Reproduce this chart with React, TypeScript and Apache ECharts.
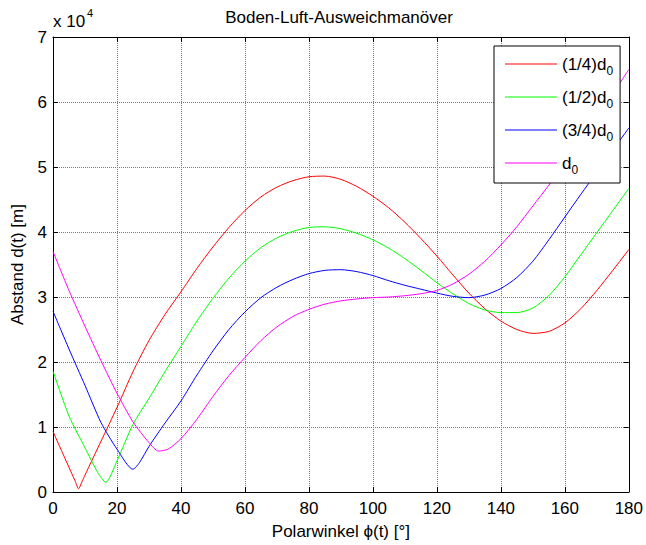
import React, { useEffect, useRef } from "react";
import * as echarts from "echarts";

const FONT = "'Liberation Sans', Arial, Helvetica, sans-serif";

const titleText = "Boden-Luft-Ausweichmanöver";
const xAxisName = "Polarwinkel \u03d5(t) [°]";
const yAxisName = "Abstand d(t) [m]";
const yScaleExponent = "4";

const seriesNames = ["(1/4)d0", "(1/2)d0", "(3/4)d0", "d0"];
const seriesColors = ["#ff0000", "#00ff00", "#0000ff", "#ff00ff"];

// values in units of 10^4 m
const redAngles = [0, 4, 7, 8, 9, 10, 15, 20, 25, 30, 35, 40, 45, 50, 55, 60, 65, 70, 75, 80, 85, 90, 95, 100, 105, 110, 115, 120, 125, 130, 135, 140, 145, 150, 155, 160, 165, 170, 175, 180];
const redValues = [0.93, 0.49, 0.16, 0.05, 0.15, 0.26, 0.78, 1.3, 1.85, 2.33, 2.73, 3.08, 3.44, 3.77, 4.07, 4.33, 4.54, 4.69, 4.79, 4.85, 4.86, 4.81, 4.7, 4.55, 4.37, 4.15, 3.9, 3.63, 3.34, 3.06, 2.82, 2.63, 2.5, 2.44, 2.47, 2.6, 2.82, 3.1, 3.41, 3.73];

const greenAngles = [0, 5, 10, 14, 16.5, 20, 25, 30, 35, 40, 45, 50, 55, 60, 65, 70, 75, 80, 85, 90, 95, 100, 105, 110, 115, 120, 125, 130, 135, 140, 145, 150, 155, 160, 165, 170, 175, 180];
const greenValues = [1.86, 1.17, 0.68, 0.3, 0.15, 0.48, 1.04, 1.44, 1.85, 2.24, 2.63, 2.98, 3.29, 3.55, 3.76, 3.91, 4.01, 4.07, 4.08, 4.05, 3.98, 3.88, 3.75, 3.59, 3.41, 3.22, 3.05, 2.9, 2.8, 2.76, 2.76, 2.83, 3.02, 3.31, 3.65, 3.99, 4.33, 4.67];

const blueAngles = [0, 5, 10, 15, 20, 25, 27, 30, 35, 40, 45, 50, 55, 60, 65, 70, 75, 80, 85, 90, 95, 100, 105, 110, 115, 120, 125, 130, 135, 140, 145, 150, 155, 160, 165, 170, 175, 180];
const blueValues = [2.78, 2.2, 1.64, 1.07, 0.66, 0.35, 0.45, 0.7, 1.06, 1.4, 1.8, 2.17, 2.5, 2.77, 2.99, 3.15, 3.27, 3.36, 3.41, 3.42, 3.39, 3.33, 3.25, 3.18, 3.12, 3.06, 3.01, 2.99, 3.03, 3.13, 3.3, 3.55, 3.88, 4.23, 4.58, 4.92, 5.26, 5.6];

const magentaAngles = [0, 5, 10, 15, 20, 25, 30, 33, 36, 40, 45, 50, 55, 60, 65, 70, 75, 80, 85, 90, 95, 100, 105, 110, 115, 120, 125, 130, 135, 140, 145, 150, 155, 160, 165, 170, 175, 180];
const magentaValues = [3.7, 3.1, 2.55, 2.02, 1.52, 1.08, 0.76, 0.63, 0.66, 0.82, 1.12, 1.47, 1.79, 2.07, 2.33, 2.54, 2.7, 2.81, 2.89, 2.94, 2.97, 2.99, 3.0, 3.02, 3.05, 3.1, 3.2, 3.35, 3.55, 3.8, 4.08, 4.4, 4.72, 5.05, 5.4, 5.77, 6.13, 6.5];

const allAngles = [redAngles, greenAngles, blueAngles, magentaAngles];
const allValues = [redValues, greenValues, blueValues, magentaValues];

const xMin = 0, xMax = 180, xStep = 20;
const yMin = 0, yMax = 7, yStep = 1;

export default function App() {
  const ref = useRef<HTMLDivElement>(null);
  useEffect(() => {
    if (!ref.current) return;
    const chart = echarts.init(ref.current, null, { renderer: "svg" });
    const gridLine = { show: true, lineStyle: { color: "#7a7a7a", width: 1, type: [1, 1] as any } };
    const axisLine = { show: true, onZero: false, lineStyle: { color: "#000", width: 1 } };
    const axisTick = { show: true, inside: true, length: 5, lineStyle: { color: "#000", width: 1 } };
    const labelStyle = { color: "#000", fontSize: 17, fontFamily: FONT };
    const option: any = {
      animation: false,
      backgroundColor: "#ffffff",
      grid: { left: 53, right: 14, top: 37, bottom: 52, containLabel: false },
      xAxis: [
        {
          type: "value", min: xMin, max: xMax, interval: xStep, position: "bottom",
          axisLine, axisTick, splitLine: gridLine,
          axisLabel: { ...labelStyle, margin: 8 },
          name: xAxisName, nameLocation: "middle", nameGap: 31,
          nameTextStyle: { ...labelStyle },
        },
        {
          type: "value", min: xMin, max: xMax, interval: xStep, position: "top",
          axisLine, axisTick, splitLine: { show: false }, axisLabel: { show: false },
        },
      ],
      yAxis: [
        {
          type: "value", min: yMin, max: yMax, interval: yStep, position: "left",
          axisLine, axisTick, splitLine: gridLine,
          axisLabel: { ...labelStyle, margin: 6 },
          name: yAxisName, nameLocation: "middle", nameGap: 27, nameRotate: 90,
          nameTextStyle: { ...labelStyle },
        },
        {
          type: "value", min: yMin, max: yMax, interval: yStep, position: "right",
          axisLine, axisTick, splitLine: { show: false }, axisLabel: { show: false },
        },
      ],
      legend: {
        orient: "vertical",
        left: 494,
        top: 46,
        backgroundColor: "#ffffff",
        borderColor: "#000",
        borderWidth: 1,
        borderRadius: 0,
        padding: [5, 7, 7, 11],
        icon: "rect",
        itemWidth: 52,
        itemHeight: 1,
        itemGap: 7,
        data: seriesNames,
        formatter: (name: string) => name.replace(/d0$/, "d{sub|0}"),
        textStyle: {
          color: "#000", fontSize: 17, fontFamily: FONT, lineHeight: 26,
          rich: {
            sub: { fontSize: 12, fontFamily: FONT, color: "#000", verticalAlign: "bottom", lineHeight: 12 },
          },
        },
      },
      graphic: [
        {
          type: "text", x: 339, y: 17,
          style: { text: titleText, fill: "#000", font: `17px ${FONT}`, textAlign: "center", textVerticalAlign: "middle" },
        },
        {
          type: "text", x: 53, y: 21,
          style: { text: "x 10", fill: "#000", font: `17px ${FONT}`, textAlign: "left", textVerticalAlign: "middle" },
        },
        {
          type: "text", x: 87, y: 13,
          style: { text: yScaleExponent, fill: "#000", font: `11px ${FONT}`, textAlign: "left", textVerticalAlign: "middle" },
        },
      ],
      series: seriesNames.map((name, i) => ({
        name,
        type: "line",
        xAxisIndex: 0,
        yAxisIndex: 0,
        symbol: "none",
        smooth: 0.25,
        lineStyle: { color: seriesColors[i], width: 1 },
        itemStyle: { color: seriesColors[i] },
        data: allAngles[i].map((a, j) => [a, allValues[i][j]]),
        z: 3,
      })),
    };
    chart.setOption(option);
    return () => chart.dispose();
  }, []);
  return (
    <div
      ref={ref}
      style={{ position: "absolute", left: 0, top: 0, width: 646, height: 545, background: "#fff" }}
    />
  );
}
